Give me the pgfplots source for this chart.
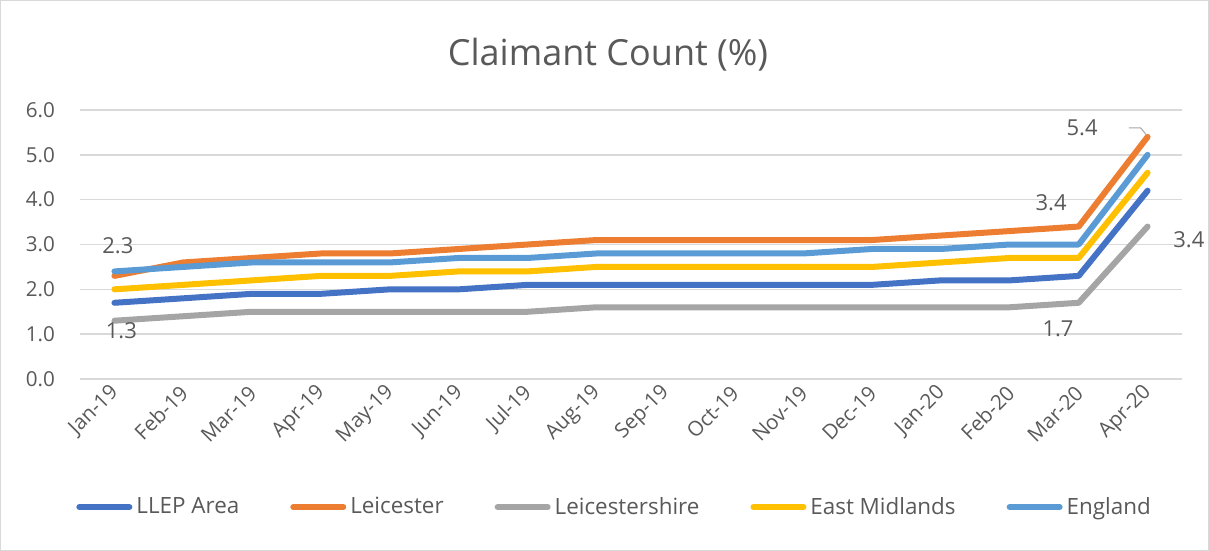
\documentclass[border=0pt]{standalone}
\usepackage{pgfplots}
\pgfplotsset{compat=1.18}
\usepackage{fontspec}
\setmainfont{Open Sans}
\definecolor{cLLEP}{HTML}{4472C4}
\definecolor{cLei}{HTML}{ED7D31}
\definecolor{cLeis}{HTML}{A5A5A5}
\definecolor{cEM}{HTML}{FFC000}
\definecolor{cEng}{HTML}{5B9BD5}
\definecolor{txt}{HTML}{595959}
\definecolor{gridc}{HTML}{D9D9D9}
\begin{document}
\begin{tikzpicture}
\path[use as bounding box] (0,0) rectangle (604.5pt,275.5pt);
\draw[gridc, line width=0.6pt] (0.3pt,0.3pt) rectangle (604.2pt,275.2pt);
\node[txt, font=\fontsize{18}{21}\selectfont] at (304pt,248pt) {Claimant Count (\%)};
\begin{axis}[
  scale only axis,
  width=551pt, height=134.5pt,
  at={(40pt,86pt)}, anchor=south west,
  xmin=-0.5, xmax=15.5, ymin=0, ymax=6,
  xtick={0,...,15},
  xticklabels={Jan-19,Feb-19,Mar-19,Apr-19,May-19,Jun-19,Jul-19,Aug-19,Sep-19,Oct-19,Nov-19,Dec-19,Jan-20,Feb-20,Mar-20,Apr-20},
  ytick={0,1,...,6},
  xmajorgrids=false,
  ymajorgrids, grid style={draw=gridc, line width=0.75pt},
  axis x line=bottom, axis y line=left,
  x axis line style={draw=gridc, line width=0.75pt, -},
  y axis line style={draw=none},
  tick style={draw=none},
  major tick length=0pt,
  tick label style={txt, font=\fontsize{10.3}{12}\selectfont},
  /pgf/number format/assume math mode=true,
  y tick label style={/pgf/number format/fixed, /pgf/number format/fixed zerofill, /pgf/number format/precision=1},
  yticklabel style={xshift=-9pt},
  xticklabel style={rotate=45, anchor=east, yshift=-4pt},
  clip=false,
  legend columns=5,
  legend style={draw=none, fill=none, at={(0.486,-0.476)}, anchor=center,
    font=\fontsize{11.2}{13}\selectfont, text=txt,
    /tikz/every even column/.append style={column sep=23.5pt}},
  legend image code/.code={\draw[#1, line width=3pt, line cap=round] (0pt,0pt) -- (25pt,0pt);},
  every axis plot/.append style={line width=3pt, line join=round, line cap=round},
]
\addplot[cLLEP] coordinates {(0,1.7)(1,1.8)(2,1.9)(3,1.9)(4,2.0)(5,2.0)(6,2.1)(7,2.1)(8,2.1)(9,2.1)(10,2.1)(11,2.1)(12,2.2)(13,2.2)(14,2.3)(15,4.2)};
\addlegendentry{LLEP Area}
\addplot[cLei] coordinates {(0,2.3)(1,2.6)(2,2.7)(3,2.8)(4,2.8)(5,2.9)(6,3.0)(7,3.1)(8,3.1)(9,3.1)(10,3.1)(11,3.1)(12,3.2)(13,3.3)(14,3.4)(15,5.4)};
\addlegendentry{Leicester}
\addplot[cLeis] coordinates {(0,1.3)(1,1.4)(2,1.5)(3,1.5)(4,1.5)(5,1.5)(6,1.5)(7,1.6)(8,1.6)(9,1.6)(10,1.6)(11,1.6)(12,1.6)(13,1.6)(14,1.7)(15,3.4)};
\addlegendentry{Leicestershire}
\addplot[cEM] coordinates {(0,2.0)(1,2.1)(2,2.2)(3,2.3)(4,2.3)(5,2.4)(6,2.4)(7,2.5)(8,2.5)(9,2.5)(10,2.5)(11,2.5)(12,2.6)(13,2.7)(14,2.7)(15,4.6)};
\addlegendentry{East Midlands}
\addplot[cEng] coordinates {(0,2.4)(1,2.5)(2,2.6)(3,2.6)(4,2.6)(5,2.7)(6,2.7)(7,2.8)(8,2.8)(9,2.8)(10,2.8)(11,2.9)(12,2.9)(13,3.0)(14,3.0)(15,5.0)};
\addlegendentry{England}
\begin{scope}[every node/.style={txt, font=\fontsize{11}{13}\selectfont}]
\node at (axis cs:0.05,2.97) {2.3};
\node at (axis cs:0.1,1.07) {1.3};
\node at (axis cs:13.6,3.93) {3.4};
\node at (axis cs:13.7,1.12) {1.7};
\node at (axis cs:15.6,3.1) {3.4};
\node at (axis cs:14.05,5.6) {5.4};
\draw[cLeis, line width=0.5pt] (axis cs:14.73,5.6) -- (axis cs:14.9,5.6) -- (axis cs:14.98,5.45);
\end{scope}
\end{axis}
\end{tikzpicture}
\end{document}
